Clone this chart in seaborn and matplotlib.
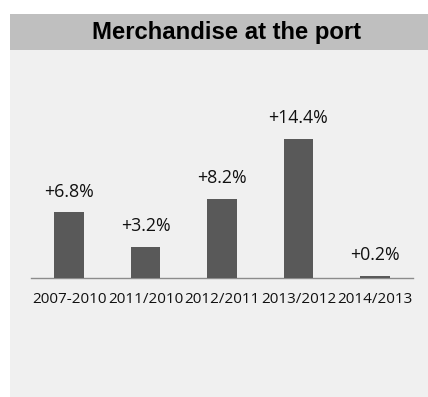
import matplotlib
matplotlib.use("Agg")
import matplotlib.pyplot as plt
from matplotlib.patches import Rectangle
import seaborn as sns
import pandas as pd

# Year-over-year change in merchandise volume
periods = ["2007-2010", "2011/2010", "2012/2011", "2013/2012", "2014/2013"]
growth_pct = [6.8, 3.2, 8.2, 14.4, 0.2]
value_labels = ["+6.8%", "+3.2%", "+8.2%", "+14.4%", "+0.2%"]
title_text = "Merchandise at the port"

df = pd.DataFrame({"period": periods, "growth": growth_pct})

sns.set_theme(style="white")
plt.rcParams["font.family"] = ["Open Sans", "DejaVu Sans"]

W, H = 428, 397
fig = plt.figure(figsize=(W / 100, H / 100), dpi=100)
fig.patch.set_facecolor("white")

# panel background and title band, kept behind the axes
fig.add_artist(Rectangle((10 / W, 0), 1 - 10 / W, (H - 14) / H,
                         transform=fig.transFigure, facecolor="#f0f0f0",
                         edgecolor="none", zorder=-2))
fig.add_artist(Rectangle((10 / W, (H - 50) / H), 1 - 10 / W, 36 / H,
                         transform=fig.transFigure, facecolor="#bfbfbf",
                         edgecolor="none", zorder=-1))
fig.text(226 / W, (H - 32) / H, title_text, ha="center", va="center",
         fontsize=17.2, fontweight="bold", family=["Liberation Sans", "DejaVu Sans"],
         color="black")

ax_left, ax_right = 31 / W, 413 / W
ax_bottom = (H - 277.7) / H
ymax = 16
ax_height = ymax * 9.62 / H
ax = fig.add_axes([ax_left, ax_bottom, ax_right - ax_left, ax_height])
ax.set_facecolor("none")
ax.set_zorder(1)

sns.barplot(data=df, x="period", y="growth", color="#595959", width=0.39,
            saturation=1, linewidth=0, ax=ax, zorder=3)

ax.set_xlim(-0.5, len(periods) - 0.5)
ax.set_ylim(0, ymax)

for i, (v, lab) in enumerate(zip(growth_pct, value_labels)):
    ax.annotate(lab, xy=(i, v), xytext=(0, 20.7), textcoords="offset pixels",
                ha="center", va="center", fontsize=12.8, color="#111111")

for side in ["top", "right", "left"]:
    ax.spines[side].set_visible(False)
ax.spines["bottom"].set_color("#8c8c8c")
ax.spines["bottom"].set_linewidth(1.0)

ax.set_yticks([])
ax.set_xlabel("")
ax.set_ylabel("")
ax.set_xticks(range(len(periods)))
ax.set_xticklabels(periods, fontsize=11, color="#111111")
ax.tick_params(axis="x", which="major", length=0, pad=10.5)
ax.set_xticks([i - 0.5 for i in range(len(periods) + 1)], minor=True)
ax.tick_params(axis="x", which="minor", length=4, width=1, color="#8c8c8c",
               direction="out")

fig.savefig("out.png", dpi=100)
